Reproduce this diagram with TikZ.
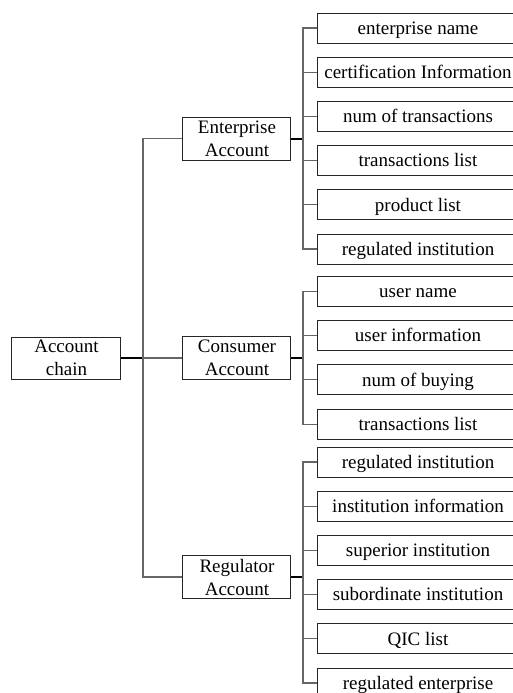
\documentclass[tikz,border=0pt]{standalone}
\usepackage{fontspec}
\setmainfont{Liberation Serif}
\begin{document}
\begin{tikzpicture}[x=0.5pt,y=-0.5pt,
  every node/.style={font=\fontsize{9.5}{11.5}\selectfont},
  box/.style={draw=black!85,line width=0.5pt,inner sep=0pt,align=center},
  leaf/.style={box,minimum width=100pt,minimum height=15pt,text height=1.7ex,text depth=0.35ex},
  grp/.style={box,minimum width=54pt,minimum height=21.5pt},
  conn/.style={draw=black!60,line width=0.55pt},
  stub/.style={draw=black,line width=1pt}]
\clip (0,0) rectangle (513,693);
\fill[white] (0,0) rectangle (513,693);
% root and groups
\node[grp,minimum width=54.5pt,minimum height=21pt] (ac) at (66.5,358) {Account\\chain};
\node[grp] (ent) at (237,138.5) {Enterprise\\Account};
\node[grp] (con) at (237,358) {Consumer\\Account};
\node[grp] (reg) at (237,577) {Regulator\\Account};
\coordinate (b0) at (143,358);
\draw[stub] (ac.east) -- (b0);
\draw[conn] (ent.west) -| (b0);
\draw[conn] (reg.west) -| (b0);
\draw[conn] (b0) -- (con.west);
% enterprise leaves
\node[leaf] (e1) at (418,28) {enterprise name};
\node[leaf] (e2) at (418,72.2) {certification Information};
\node[leaf] (e3) at (418,116.4) {num of transactions};
\node[leaf] (e4) at (418,160.6) {transactions list};
\node[leaf] (e5) at (418,204.8) {product list};
\node[leaf] (e6) at (418,249) {regulated institution};
\coordinate (be) at (303,138.5);
\draw[stub] (ent.east) -- (be);
\foreach \n in {e1,e2,e3,e4,e5,e6} \draw[conn] (\n.west) -| (be);
% consumer leaves
\node[leaf] (c1) at (418,291.5) {user name};
\node[leaf] (c2) at (418,335.7) {user information};
\node[leaf] (c3) at (418,379.9) {num of buying};
\node[leaf] (c4) at (418,424.1) {transactions list};
\coordinate (bc) at (303,358);
\draw[stub] (con.east) -- (bc);
\foreach \n in {c1,c2,c3,c4} \draw[conn] (\n.west) -| (bc);
% regulator leaves
\node[leaf] (r1) at (418,462) {regulated institution};
\node[leaf] (r2) at (418,506.2) {institution information};
\node[leaf] (r3) at (418,550.4) {superior institution};
\node[leaf] (r4) at (418,594.6) {subordinate institution};
\node[leaf] (r5) at (418,638.8) {QIC list};
\node[leaf] (r6) at (418,683) {regulated enterprise};
\coordinate (br) at (303,577);
\draw[stub] (reg.east) -- (br);
\foreach \n in {r1,r2,r3,r4,r5,r6} \draw[conn] (\n.west) -| (br);
\end{tikzpicture}
\end{document}
